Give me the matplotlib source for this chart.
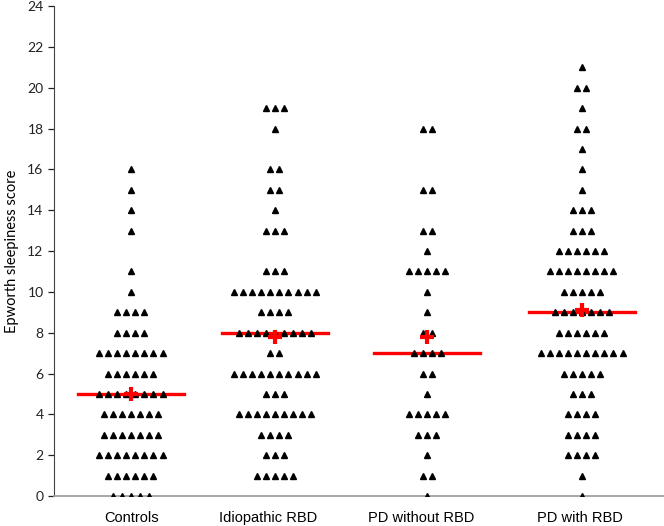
import numpy as np
import matplotlib
matplotlib.use("Agg")
import matplotlib.pyplot as plt

# counts of subjects per Epworth score (index = score 0..21)
groups = ["Controls", "Idiopathic RBD", "PD without RBD", "PD with RBD"]
controls = [5, 6, 8, 7, 7, 8, 6, 8, 4, 4, 1, 1, 0, 1, 1, 1, 1, 0, 0, 0, 0, 0]
idiopathic = [0, 5, 3, 4, 9, 3, 10, 2, 9, 4, 10, 3, 0, 3, 1, 2, 2, 0, 1, 3, 0, 0]
pd_no_rbd = [1, 2, 1, 3, 5, 1, 2, 4, 2, 1, 1, 5, 1, 2, 0, 2, 0, 0, 2, 0, 0, 0]
pd_rbd = [1, 1, 4, 4, 4, 3, 5, 10, 6, 7, 5, 8, 6, 3, 3, 1, 1, 1, 2, 1, 2, 1]
medians = [5, 8, 7, 9]
means = [5.0, 7.8, 7.8, 9.1]

all_counts = [controls, idiopathic, pd_no_rbd, pd_rbd]
# group centres along x (not evenly spaced in the original)
centres = [0, 0.958, 1.97, 3.0]
label_pos = [0.007, 0.915, 1.93, 2.99]

fig = plt.figure(figsize=(6.64, 5.26), dpi=100)
ax = fig.add_axes([0.0813, 0.057, 0.9187, 0.9316])

step = 0.06  # horizontal spacing of stacked points
half = 0.355  # half width of median bar

for i, counts in enumerate(all_counts):
    c = centres[i]
    xs, ys = [], []
    for score, n in enumerate(counts):
        for j in range(n):
            xs.append(c + (j - (n - 1) / 2) * step)
            ys.append(score)
    ax.plot(xs, ys, linestyle="none", marker="^", color="black", ms=3.8, zorder=3)
    ax.plot([c - half, c + half], [medians[i], medians[i]], color="#ff0000", lw=2.4, zorder=2)
    ax.plot(c, means[i], marker="+", color="#ff0000", ms=10, mew=3, zorder=4)

ax.set_xlim(-0.512, 3.546)
ax.set_ylim(0, 24)
ax.set_yticks(np.arange(0, 25, 2))
ax.set_xticks(label_pos)
ax.set_xticklabels(groups, fontsize=10.5, family="Liberation Sans")
ax.tick_params(axis="x", length=0, pad=11)
ax.tick_params(axis="y", length=4, width=0.9, colors="#222222", labelsize=10)
for lab in ax.get_yticklabels():
    lab.set_family("Lato")
ax.set_ylabel("Epworth sleepiness score", fontsize=10.5, family="Lato", labelpad=6)

ax.spines["top"].set_visible(False)
ax.spines["right"].set_visible(False)
ax.spines["left"].set_color("#444444")
ax.spines["bottom"].set_color("#a0a0a0")
ax.spines["bottom"].set_linewidth(1.3)

fig.savefig("out.png", dpi=100)
